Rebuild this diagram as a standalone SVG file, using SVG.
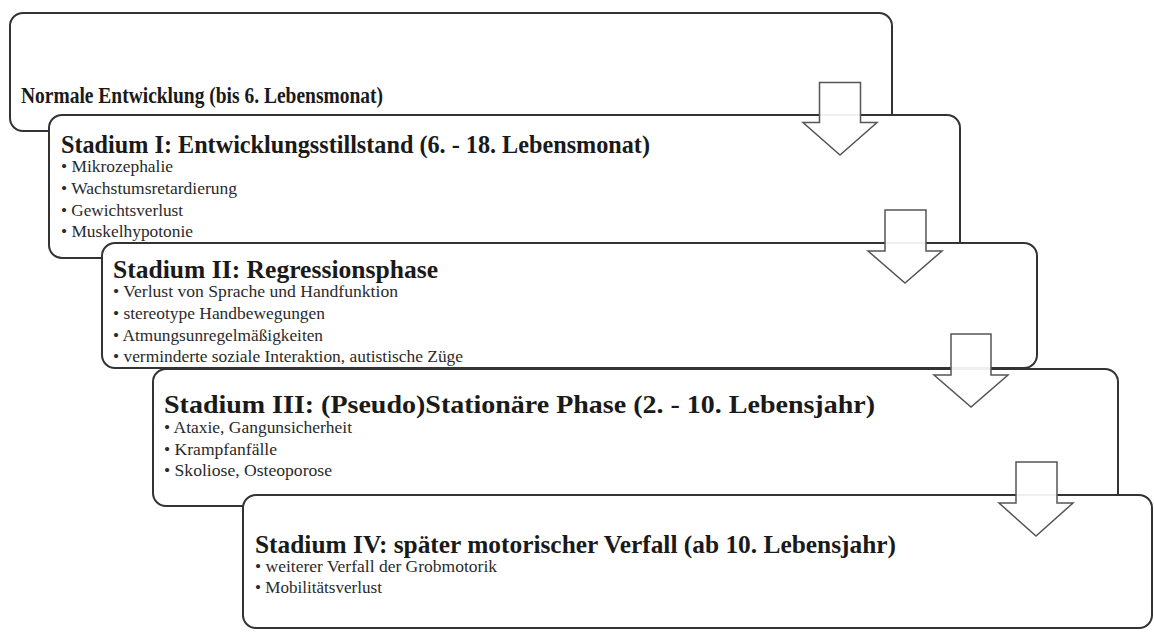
<svg xmlns="http://www.w3.org/2000/svg" width="1154" height="632" viewBox="0 0 1154 632">
<style>
.box{fill:#fff;stroke:#333;stroke-width:2}
.arrow{fill:#fff;fill-opacity:0.92;stroke:#555;stroke-width:1.5;stroke-linejoin:miter}
.t{font-family:"Liberation Serif",serif;font-weight:bold;fill:#1a1a1a}
.b{font-family:"Liberation Serif",serif;font-size:16px;fill:#2a2a2a}
</style>
<rect width="1154" height="632" fill="#fff"/>
<g id="node0">
<rect class="box" x="10" y="13" width="882" height="118" rx="13"/>
<text class="t" x="21" y="103" font-size="24" textLength="362" lengthAdjust="spacingAndGlyphs">Normale Entwicklung (bis 6. Lebensmonat)</text>
</g>
<g id="node1">
<rect class="box" x="49" y="115" width="911" height="143" rx="13"/>
<text class="t" x="61" y="153" font-size="26" textLength="589" lengthAdjust="spacingAndGlyphs">Stadium I: Entwicklungsstillstand (6. - 18. Lebensmonat)</text>
<text class="b" x="61" y="172" textLength="112" lengthAdjust="spacingAndGlyphs">• Mikrozephalie</text>
<text class="b" x="61" y="194" textLength="176" lengthAdjust="spacingAndGlyphs">• Wachstumsretardierung</text>
<text class="b" x="61" y="216" textLength="122" lengthAdjust="spacingAndGlyphs">• Gewichtsverlust</text>
<text class="b" x="61" y="237" textLength="132" lengthAdjust="spacingAndGlyphs">• Muskelhypotonie</text>
</g>
<g id="node2">
<rect class="box" x="102" y="243" width="935" height="125" rx="13"/>
<text class="t" x="113" y="278" font-size="26" textLength="325" lengthAdjust="spacingAndGlyphs">Stadium II: Regressionsphase</text>
<text class="b" x="113" y="297" textLength="285" lengthAdjust="spacingAndGlyphs">• Verlust von Sprache und Handfunktion</text>
<text class="b" x="113" y="319" textLength="212" lengthAdjust="spacingAndGlyphs">• stereotype Handbewegungen</text>
<text class="b" x="113" y="341" textLength="210" lengthAdjust="spacingAndGlyphs">• Atmungsunregelmäßigkeiten</text>
<text class="b" x="113" y="362" textLength="350" lengthAdjust="spacingAndGlyphs">• verminderte soziale Interaktion, autistische Züge</text>
</g>
<g id="node3">
<rect class="box" x="153" y="369" width="965" height="137" rx="13"/>
<text class="t" x="164" y="413" font-size="26" textLength="711" lengthAdjust="spacingAndGlyphs">Stadium III: (Pseudo)Stationäre Phase (2. - 10. Lebensjahr)</text>
<text class="b" x="164" y="433" textLength="188" lengthAdjust="spacingAndGlyphs">• Ataxie, Gangunsicherheit</text>
<text class="b" x="164" y="455" textLength="113" lengthAdjust="spacingAndGlyphs">• Krampfanfälle</text>
<text class="b" x="164" y="476" textLength="168" lengthAdjust="spacingAndGlyphs">• Skoliose, Osteoporose</text>
</g>
<g id="node4">
<rect class="box" x="243" y="495" width="909" height="133" rx="13"/>
<text class="t" x="255" y="553" font-size="26" textLength="641" lengthAdjust="spacingAndGlyphs">Stadium IV: später motorischer Verfall (ab 10. Lebensjahr)</text>
<text class="b" x="255" y="572" textLength="242" lengthAdjust="spacingAndGlyphs">• weiterer Verfall der Grobmotorik</text>
<text class="b" x="255" y="593" textLength="127" lengthAdjust="spacingAndGlyphs">• Mobilitätsverlust</text>
</g>
<g id="connectors">
<path class="arrow" d="M819.5 82.5 H860.5 V122.5 H877 L840 155 L803 122.5 H819.5 Z"/>
<path class="arrow" d="M885 210 H926 V251 H942 L905 283 L868 251 H885 Z"/>
<path class="arrow" d="M951 334 H991 V375 H1008 L971 407 L934 375 H951 Z"/>
<path class="arrow" d="M1016 462 H1057 V503 H1073 L1036 536 L999 503 H1016 Z"/>
</g>
</svg>
